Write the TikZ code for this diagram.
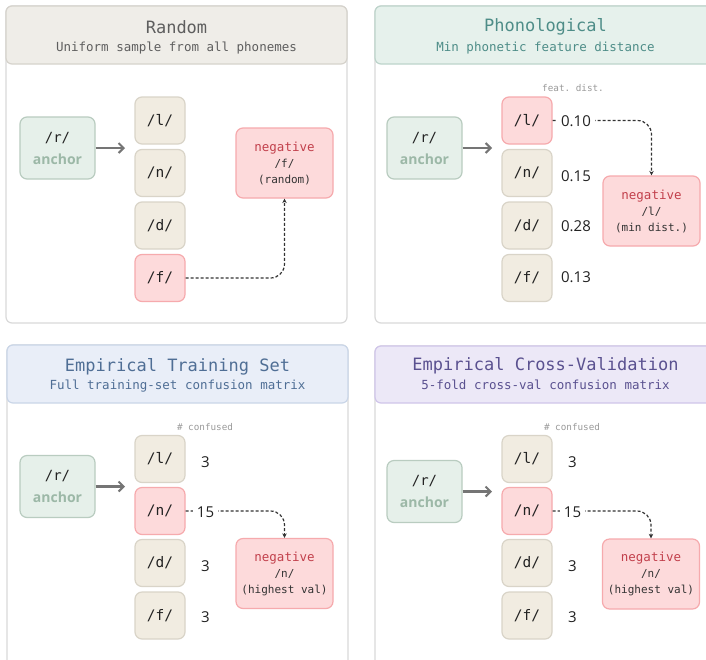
\documentclass[tikz,border=0pt]{standalone}
\usepackage{fontspec}
\setmainfont{Open Sans}
\setmonofont{DejaVu Sans Mono}
\usetikzlibrary{arrows.meta,positioning}
\definecolor{panelline}{HTML}{D9D9D9}
\definecolor{anchorfill}{HTML}{E6F0EA}
\definecolor{anchorline}{HTML}{B9CCC0}
\definecolor{anchortext}{HTML}{9CB8A7}
\definecolor{candfill}{HTML}{F1ECE1}
\definecolor{candline}{HTML}{D9D4C8}
\definecolor{negfill}{HTML}{FDDADB}
\definecolor{negline}{HTML}{F6AAAD}
\definecolor{negtext}{HTML}{C2404C}
\definecolor{arrowgray}{HTML}{757575}
\definecolor{darkline}{HTML}{333333}
\definecolor{valtext}{HTML}{222222}
\definecolor{notegray}{HTML}{9A9A9A}
\definecolor{randfill}{HTML}{EFEDE8}
\definecolor{randline}{HTML}{D6D3CC}
\definecolor{randtext}{HTML}{5E5E5E}
\definecolor{phonfill}{HTML}{E6F1EC}
\definecolor{phonline}{HTML}{BDD4CB}
\definecolor{phontext}{HTML}{4E8D88}
\definecolor{trainfill}{HTML}{E9EEF8}
\definecolor{trainline}{HTML}{CAD6E8}
\definecolor{traintext}{HTML}{4F6E95}
\definecolor{cvfill}{HTML}{ECE8F7}
\definecolor{cvline}{HTML}{D0C5EA}
\definecolor{cvtext}{HTML}{5A5190}

\begin{document}
\begin{tikzpicture}[x=1pt,y=-1pt]
\tikzset{
  panelbox/.style={draw=panelline, fill=white, rounded corners=6pt, line width=1.2pt},
  headbox/.style={rounded corners=6pt, line width=1.2pt},
  headtitle/.style={font=\ttfamily\fontsize{17}{20}\selectfont, inner sep=0pt},
  headsub/.style={font=\ttfamily\fontsize{12.5}{15}\selectfont, inner sep=0pt},
  anchorbox/.style={draw=anchorline, fill=anchorfill, rounded corners=7pt, line width=1.2pt,
    minimum width=75pt, minimum height=62pt, align=center, text=valtext, font=\fontsize{14}{18}\selectfont},
  candbox/.style={draw=candline, fill=candfill, rounded corners=7pt, line width=1.2pt, text=valtext,
    minimum width=50pt, minimum height=47pt, font=\ttfamily\fontsize{14.5}{16}\selectfont},
  hitbox/.style={candbox, draw=negline, fill=negfill},
  negbox/.style={draw=negline, fill=negfill, rounded corners=7pt, line width=1.2pt,
    minimum width=97pt, minimum height=70pt, align=center, text=darkline,
    font=\ttfamily\fontsize{11}{16}\selectfont},
  valnode/.style={fill=white, inner xsep=4pt, inner ysep=1pt, text=valtext, font=\fontsize{15}{17}\selectfont},
  tinynote/.style={text=notegray, inner sep=0pt, font=\ttfamily\fontsize{9.3}{11}\selectfont},
  pushto/.style={-{Straight Barb[length=5pt,width=10pt,line width=2pt]}, draw=arrowgray, line width=2.5pt},
  pickto/.style={-{Stealth[length=4.5pt,width=4.5pt]}, draw=darkline, line width=1.2pt,
    dash pattern=on 3pt off 2pt, rounded corners=14pt},
}
\useasboundingbox (0,0) rectangle (706,659);
\fill[white] (0,0) rectangle (706,659);

% Random
\draw[panelbox] (6,6) rectangle (347,323);
\draw[headbox, draw=randline, fill=randfill] (6,6) rectangle (347,64);
\node[headtitle, text=randtext] (title1) at (176.5,27) {Random};
\node[headsub, text=randtext] (sub1) at (176.5,48) {Uniform sample from all phonemes};
\node[anchorbox] (anc1) at (57.5,148) {{\ttfamily /r/}\\[4pt]{\bfseries\color{anchortext}anchor}};
\coordinate (tip1) at (125,148);
\draw[pushto] (anc1.east) -- (tip1);
\foreach \ph/\yy/\st in {l/120.5/candbox, n/173/candbox, d/225.5/candbox, f/278/hitbox}
  \node[\st] (p1\ph) at (160,\yy) {/\ph/};
\node[negbox] (neg1) at (284.5,163) {{\color{negtext}\fontsize{12.5}{16}\selectfont negative}\\/f/\\(random)};
\draw[pickto] (p1f.east) -| (neg1.south);

% Phonological
\draw[panelbox] (375,6) rectangle (716,323);
\draw[headbox, draw=phonline, fill=phonfill] (375,6) rectangle (716,64);
\node[headtitle, text=phontext] (title2) at (545.5,27) {Phonological};
\node[headsub, text=phontext] (sub2) at (545.5,48) {Min phonetic feature distance};
\node[anchorbox] (anc2) at (424.5,148) {{\ttfamily /r/}\\[4pt]{\bfseries\color{anchortext}anchor}};
\coordinate (tip2) at (492,148);
\draw[pushto] (anc2.east) -- (tip2);
\foreach \ph/\yy/\st in {l/120.5/hitbox, n/173/candbox, d/225.5/candbox, f/278/candbox}
  \node[\st] (p2\ph) at (527,\yy) {/\ph/};
\node[negbox] (neg2) at (651.5,211) {{\color{negtext}\fontsize{12.5}{16}\selectfont negative}\\/l/\\(min dist.)};
\node[tinynote] (note2) at (573,88) {feat. dist.};
\draw[pickto] (p2l.east) -| (neg2.north);
\foreach \ph/\yy/\vv in {l/121/0.10, n/176/0.15, d/226/0.28, f/277/0.13}
  \node[valnode] (v2\ph) at (576,\yy) {\vv};

% Empirical Training Set
\draw[panelbox] (7,345) rectangle (348,672);
\draw[headbox, draw=trainline, fill=trainfill] (7,345) rectangle (348,403);
\node[headtitle, text=traintext] (title3) at (177.5,367) {Empirical Training Set};
\node[headsub, text=traintext] (sub3) at (177.5,386) {Full training-set confusion matrix};
\node[anchorbox] (anc3) at (57.5,486.5) {{\ttfamily /r/}\\[4pt]{\bfseries\color{anchortext}anchor}};
\coordinate (tip3) at (125,486.5);
\draw[pushto] (anc3.east) -- (tip3);
\foreach \ph/\yy/\st in {l/459/candbox, n/511/hitbox, d/563/candbox, f/615.5/candbox}
  \node[\st] (p3\ph) at (160,\yy) {/\ph/};
\node[negbox] (neg3) at (284.5,573.5) {{\color{negtext}\fontsize{12.5}{16}\selectfont negative}\\/n/\\(highest val)};
\node[tinynote] (note3) at (205,427) {\# confused};
\draw[pickto] (p3n.east) -| (neg3.north);
\foreach \ph/\yy/\vv in {l/462/3, n/512/15, d/566/3, f/617/3}
  \node[valnode] (v3\ph) at (205.5,\yy) {\vv};

% Empirical Cross-Validation
\draw[panelbox] (375,346) rectangle (716,672);
\draw[headbox, draw=cvline, fill=cvfill] (375,346) rectangle (716,403);
\node[headtitle, text=cvtext] (title4) at (545.5,366) {Empirical Cross-Validation};
\node[headsub, text=cvtext] (sub4) at (545.5,385) {5-fold cross-val confusion matrix};
\node[anchorbox] (anc4) at (424.5,491.5) {{\ttfamily /r/}\\[4pt]{\bfseries\color{anchortext}anchor}};
\coordinate (tip4) at (492,491.5);
\draw[pushto] (anc4.east) -- (tip4);
\foreach \ph/\yy/\st in {l/459/candbox, n/511/hitbox, d/563/candbox, f/615.5/candbox}
  \node[\st] (p4\ph) at (527,\yy) {/\ph/};
\node[negbox] (neg4) at (651,574) {{\color{negtext}\fontsize{12.5}{16}\selectfont negative}\\/n/\\(highest val)};
\node[tinynote] (note4) at (572,427) {\# confused};
\draw[pickto] (p4n.east) -| (neg4.north);
\foreach \ph/\yy/\vv in {l/462/3, n/512/15, d/566/3, f/617/3}
  \node[valnode] (v4\ph) at (572.5,\yy) {\vv};
\end{tikzpicture}
\end{document}
